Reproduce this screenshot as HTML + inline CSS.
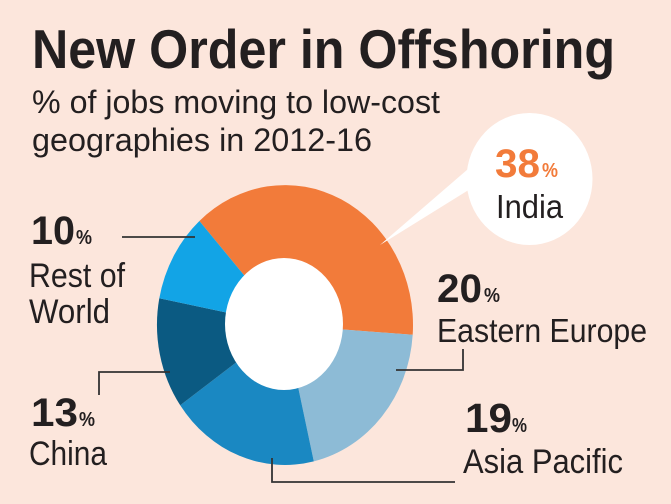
<!DOCTYPE html>
<html>
<head>
<meta charset="utf-8">
<style>
html,body{margin:0;padding:0;background:#fce6dc;}
svg{display:block;}
text{font-family:"Liberation Sans",sans-serif;fill:#231f20;}
</style>
</head>
<body>
<svg width="671" height="504" viewBox="0 0 671 504" xmlns="http://www.w3.org/2000/svg">
<rect x="0" y="0" width="671" height="504" fill="#fce6dc"/>

<!-- Title -->
<text x="32" y="68" font-size="55" font-weight="bold" textLength="583" lengthAdjust="spacingAndGlyphs">New Order in Offshoring</text>
<text x="32" y="113" font-size="32" textLength="408" lengthAdjust="spacingAndGlyphs">% of jobs moving to low-cost</text>
<text x="32" y="151" font-size="32" textLength="340" lengthAdjust="spacingAndGlyphs">geographies in 2012-16</text>

<!-- Donut -->
<path d="M285,325 L199.4,221.0 A128,140 0 0 1 412.7,334.8 Z" fill="#f27b3a"/>
<path d="M285,325 L412.7,334.8 A128,140 0 0 1 313.8,461.4 Z" fill="#8dbbd6"/>
<path d="M285,325 L313.8,461.4 A128,140 0 0 1 180.2,405.3 Z" fill="#1a88c2"/>
<path d="M285,325 L180.2,405.3 A128,140 0 0 1 159.3,298.3 Z" fill="#0b5a82"/>
<path d="M285,325 L159.3,298.3 A128,140 0 0 1 199.4,221.0 Z" fill="#12a4e6"/>
<ellipse cx="284" cy="324" rx="59" ry="66" fill="#ffffff"/>

<!-- India callout -->
<polygon points="380,245 475,163 475,186" fill="#ffffff"/>
<ellipse cx="529.5" cy="179" rx="63" ry="66" fill="#ffffff"/>
<text x="495" y="177" font-size="40" font-weight="bold" style="fill:#f27b3a" textLength="45" lengthAdjust="spacingAndGlyphs">38</text>
<text x="542" y="177" font-size="20" font-weight="bold" style="fill:#f27b3a" textLength="16" lengthAdjust="spacingAndGlyphs">%</text>
<text x="496" y="218" font-size="33" textLength="67" lengthAdjust="spacingAndGlyphs">India</text>

<!-- Leader lines -->
<g stroke="#333" stroke-width="1.8" fill="none">
<polyline points="122,237 195,237"/>
<polyline points="99,395 99,372 170,372"/>
<polyline points="396,370 463,370 463,349"/>
<polyline points="272,458 272,482 455,482"/>
</g>

<!-- Rest of World -->
<text x="31" y="244" font-size="40" font-weight="bold" textLength="44" lengthAdjust="spacingAndGlyphs">10</text>
<text x="76" y="244" font-size="20" font-weight="bold" textLength="16" lengthAdjust="spacingAndGlyphs">%</text>
<text x="29" y="287" font-size="34" textLength="96" lengthAdjust="spacingAndGlyphs">Rest of</text>
<text x="29" y="323" font-size="34" textLength="81" lengthAdjust="spacingAndGlyphs">World</text>

<!-- China -->
<text x="31" y="426" font-size="40" font-weight="bold" textLength="47" lengthAdjust="spacingAndGlyphs">13</text>
<text x="79" y="426" font-size="20" font-weight="bold" textLength="16" lengthAdjust="spacingAndGlyphs">%</text>
<text x="29" y="465" font-size="34" textLength="78" lengthAdjust="spacingAndGlyphs">China</text>

<!-- Eastern Europe -->
<text x="437" y="302" font-size="40" font-weight="bold" textLength="45" lengthAdjust="spacingAndGlyphs">20</text>
<text x="484" y="302" font-size="20" font-weight="bold" textLength="16" lengthAdjust="spacingAndGlyphs">%</text>
<text x="437" y="342" font-size="33" textLength="210" lengthAdjust="spacingAndGlyphs">Eastern Europe</text>

<!-- Asia Pacific -->
<text x="465" y="432" font-size="41" font-weight="bold" textLength="47" lengthAdjust="spacingAndGlyphs">19</text>
<text x="512" y="432" font-size="20" font-weight="bold" textLength="15" lengthAdjust="spacingAndGlyphs">%</text>
<text x="463" y="473" font-size="34" textLength="160" lengthAdjust="spacingAndGlyphs">Asia Pacific</text>
</svg>
</body>
</html>
